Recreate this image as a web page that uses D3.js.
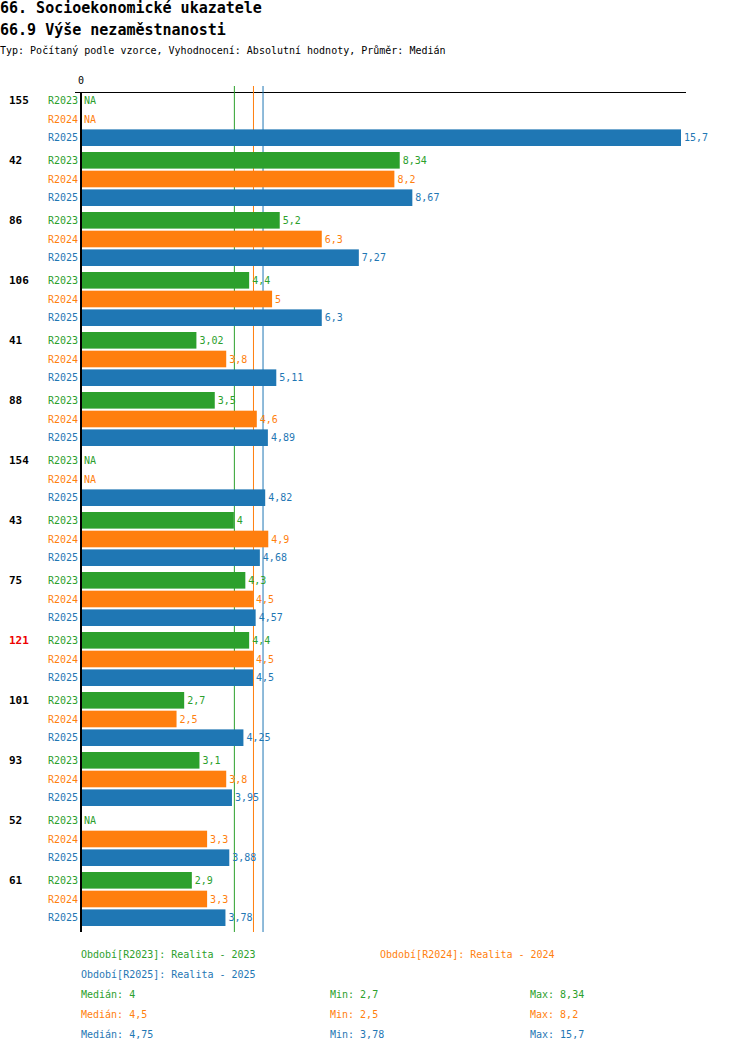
<!DOCTYPE html>
<html><head><meta charset="utf-8">
<script src="https://cdn.jsdelivr.net/npm/d3@7"></script>
<style>body{margin:0;background:#fff}text{font-family:"DejaVu Sans Mono",monospace}</style>
</head><body><svg id="c" width="750" height="1052"></svg>
<script>
var groups = ['155','42','86','106','41','88','154','43','75','121','101','93','52','61'];
var series = ['R2023','R2024','R2025'];
var colors = ['#2ca02c','#ff7f0e','#1f77b4'];
var r2023 = [null,8.34,5.2,4.4,3.02,3.5,null,4,4.3,4.4,2.7,3.1,null,2.9];
var r2024 = [null,8.2,6.3,5,3.8,4.6,null,4.9,4.5,4.5,2.5,3.8,3.3,3.3];
var r2025 = [15.7,8.67,7.27,6.3,5.11,4.89,4.82,4.68,4.57,4.5,4.25,3.95,3.88,3.78];
var medians = [4,4.5,4.75], mins = [2.7,2.5,3.78], maxs = [8.34,8.2,15.7];
var legend = ['Období[R2023]: Realita - 2023','Období[R2024]: Realita - 2024','Období[R2025]: Realita - 2025'];
var values = [r2023, r2024, r2025];
var fmt = function(v) { return String(v).replace('.', ','); };

var svg = d3.select('#c');
var x = d3.scaleLinear().domain([0, 15.7]).range([81, 681]);
var gy = d3.scaleBand().domain(groups).range([92, 92 + 60 * groups.length]);
var sy = d3.scaleBand().domain(series).range([0, 54]).paddingInner(2 / 18);

svg.append('text').attr('x', 0).attr('y', 13).attr('font-size', 15).attr('font-weight', 'bold').text('66. Socioekonomické ukazatele');
svg.append('text').attr('x', 0).attr('y', 35).attr('font-size', 15).attr('font-weight', 'bold').text('66.9 Výše nezaměstnanosti');
svg.append('text').attr('x', 0).attr('y', 54).attr('font-size', 10).text('Typ: Počítaný podle vzorce, Vyhodnocení: Absolutní hodnoty, Průměr: Medián');

svg.append('text').attr('x', x(0)).attr('y', 84).attr('font-size', 10).attr('text-anchor', 'middle').text('0');
svg.append('line').attr('x1', 75).attr('x2', 686).attr('y1', 92.5).attr('y2', 92.5).attr('stroke', '#000');

// median lines
svg.selectAll('.med').data(medians).enter().append('line')
    .attr('x1', function(d) { return x(d) + 0.5 }).attr('x2', function(d) { return x(d) + 0.5 })
    .attr('y1', 86).attr('y2', 932)
    .attr('stroke', function(d, i) { return colors[i] });

var g = svg.selectAll('.grp').data(groups).enter().append('g')
    .attr('transform', function(d) { return 'translate(0,' + gy(d) + ')' });
g.append('text').attr('x', 9).attr('y', sy('R2023') + 12).attr('font-size', 11).attr('font-weight', 'bold')
    .attr('fill', function(d) { return d === '121' ? '#e00' : '#000' }).text(function(d) { return d });

series.forEach(function(s, si) {
    g.append('text').attr('x', 78).attr('y', sy(s) + 12).attr('text-anchor', 'end').attr('font-size', 10)
        .attr('fill', colors[si]).text(s);
    g.append('rect').attr('x', x(0)).attr('y', sy(s))
        .attr('width', function(d, i) { var v = values[si][i]; return v == null ? 0 : x(v) - x(0) })
        .attr('height', sy.bandwidth()).attr('fill', colors[si]);
    g.append('text').attr('x', function(d, i) { var v = values[si][i]; return (v == null ? x(0) : x(v)) + 3 })
        .attr('y', sy(s) + 12).attr('font-size', 10).attr('fill', colors[si])
        .text(function(d, i) { var v = values[si][i]; return v == null ? 'NA' : fmt(v) });
});

svg.append('line').attr('x1', 81).attr('x2', 81).attr('y1', 92).attr('y2', 932).attr('stroke', '#000').attr('stroke-width', 2);

// legend
var lx = [81, 380, 81];
var ly = [958, 958, 978];
legend.forEach(function(t, i) {
    svg.append('text').attr('x', lx[i]).attr('y', ly[i]).attr('font-size', 10).attr('fill', colors[i]).text(t);
});
series.forEach(function(s, i) {
    var yy = 998 + i * 20;
    svg.append('text').attr('x', 81).attr('y', yy).attr('font-size', 10).attr('fill', colors[i]).text('Medián: ' + fmt(medians[i]));
    svg.append('text').attr('x', 330).attr('y', yy).attr('font-size', 10).attr('fill', colors[i]).text('Min: ' + fmt(mins[i]));
    svg.append('text').attr('x', 530).attr('y', yy).attr('font-size', 10).attr('fill', colors[i]).text('Max: ' + fmt(maxs[i]));
});
</script></body></html>
